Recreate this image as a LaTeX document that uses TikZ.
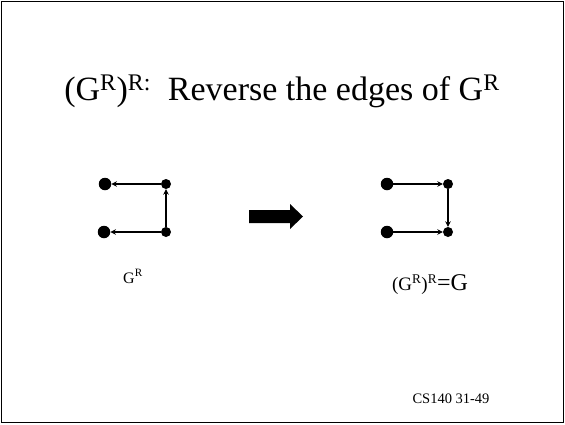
\documentclass[tikz,border=0pt]{standalone}
\usepackage{fontspec}
\setmainfont{Liberation Serif}
\usetikzlibrary{arrows.meta}
\begin{document}
\begin{tikzpicture}[x=1pt,y=-1pt,
  bigdot/.style={circle,fill=black,inner sep=0pt,minimum size=12.5pt},
  smalldot/.style={circle,fill=black,inner sep=0pt,minimum size=10pt},
  edge/.style={line width=2.2pt,-{Stealth[length=5.5pt,width=5.5pt]}},
  lbl/.style={inner sep=0pt,anchor=base}]
\useasboundingbox (0,0) rectangle (565,424);
\draw[line width=1.6pt] (1.5,1.5) rectangle (563.5,422.5);
% title
\node[lbl] (title) at (282,100) {\fontsize{34}{40}\selectfont (G\textsuperscript{R})\textsuperscript{R:}\ \ Reverse the edges of G\textsuperscript{R}};
% left graph
\node[bigdot] (a1) at (105,184) {};
\node[smalldot] (b1) at (166,184) {};
\node[bigdot] (c1) at (104,232) {};
\node[smalldot] (d1) at (166,232) {};
\draw[edge] (b1) -- (a1);
\draw[edge] (d1) -- (c1);
\draw[edge] (d1) -- (b1);
\node[lbl] (gr) at (133,283) {\fontsize{16}{18}\selectfont G\textsuperscript{R}};
% fat arrow
\fill (249,210) -- (290,210) -- (290,204) -- (303,216.5) -- (290,229) -- (290,223) -- (249,223) -- cycle;
% right graph
\node[bigdot] (a2) at (387,184) {};
\node[smalldot] (b2) at (448,184) {};
\node[bigdot] (c2) at (387,232) {};
\node[smalldot] (d2) at (448,232) {};
\draw[edge] (a2) -- (b2);
\draw[edge] (c2) -- (d2);
\draw[edge] (b2) -- (d2);
\node[lbl] (grr) at (430,290) {\fontsize{19}{21}\selectfont (G\textsuperscript{R})\textsuperscript{R}\fontsize{24}{26}\selectfont =G};
% footer
\node[lbl] (foot) at (451,403) {\fontsize{14.5}{17}\selectfont CS140 31-49};
\end{tikzpicture}
\end{document}
